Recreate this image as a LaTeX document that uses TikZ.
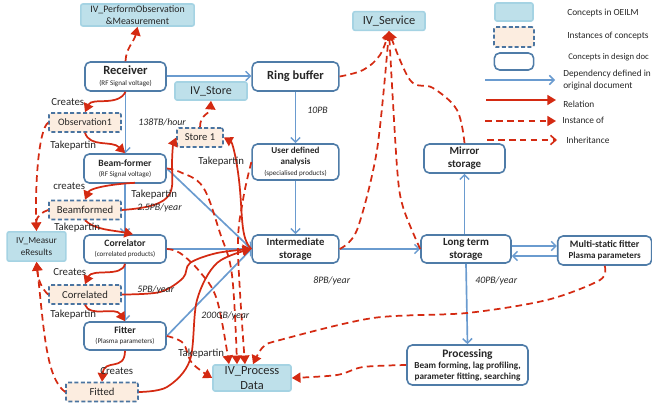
\documentclass[tikz,border=0pt]{standalone}
\usepackage{fontspec}
\setmainfont{Carlito}
\usetikzlibrary{arrows.meta}
\definecolor{cblue}{HTML}{BEE0EA}
\definecolor{cblueb}{HTML}{A5D3E3}
\definecolor{cinst}{HTML}{FCEDE0}
\definecolor{cdash}{HTML}{4A74A0}
\definecolor{cdes}{HTML}{4F7CA8}
\definecolor{cdep}{HTML}{6A9BCF}
\definecolor{cred}{HTML}{D42A12}
\definecolor{ctxt}{HTML}{262626}
\tikzset{
 oeilm/.style={draw=cblueb,fill=cblue,line width=1.2pt,rounded corners=1.5pt,inner sep=0pt,align=center,text=ctxt},
 inst/.style={draw=cdash,fill=cinst,line width=1.2pt,dash pattern=on 3pt off 1.8pt,rounded corners=1.5pt,inner sep=0pt,align=center,text=ctxt},
 des/.style={draw=cdes,fill=white,line width=1.2pt,rounded corners=4pt,inner sep=0pt,align=center,text=ctxt},
 lead/.style={font=\fontsize{6pt}{#1}\selectfont},
 dep/.style={draw=cdep,line width=1.25pt,-{Straight Barb[length=3.5pt,width=7pt,line width=1.1pt]}},
 rel/.style={draw=cred,line width=1.3pt,-{Triangle[length=6.5pt,width=7.5pt]}},
 dashr/.style={draw=cred,line width=1.3pt,dash pattern=on 5pt off 3.2pt},
 ins/.style={dashr,-{Triangle[length=6.5pt,width=7.5pt]}},
 inh/.style={dashr,-{Straight Barb[length=4pt,width=7pt,line width=1.2pt]}},
 lab/.style={font=\fontsize{8.1pt}{9pt}\selectfont,text=ctxt,inner sep=0pt,anchor=west},
 rate/.style={font=\itshape\fontsize{7.4pt}{8.4pt}\selectfont,text=ctxt,inner sep=0pt,anchor=west},
 leg/.style={font=\fontsize{7pt}{8.6pt}\selectfont,text=ctxt,inner sep=0pt,align=left,anchor=west},
}
\newcommand{\bt}[1]{\bfseries\fontsize{#1}{#1}\selectfont}
\newcommand{\sm}{\mdseries\fontsize{5.3pt}{6pt}\selectfont}
\begin{document}
\begin{tikzpicture}[x=0.75pt,y=-0.75pt]
\useasboundingbox (0,0) rectangle (652,406);
% OEILM concepts
\node[oeilm,minimum width=85pt,minimum height=16.5pt,font=\fontsize{7.4pt}{8.8pt}\selectfont] (perf) at (137.5,15) {IV\_PerformObservation\\\&Measurement};
\node[oeilm,minimum width=54pt,minimum height=13.5pt,font=\fontsize{9pt}{10pt}\selectfont] (store) at (211,91) {IV\_Store};
\node[oeilm,minimum width=54pt,minimum height=14pt,font=\fontsize{9.3pt}{10pt}\selectfont] (serv) at (389,21) {IV\_Service};
\node[oeilm,minimum width=44pt,minimum height=22pt,font=\fontsize{6.9pt}{8.8pt}\selectfont] (meas) at (36.5,246.5) {IV\_Measur\\eResults};
\node[oeilm,minimum width=58.5pt,minimum height=19.5pt,font=\fontsize{9.3pt}{11pt}\selectfont] (proc) at (252,378) {IV\_Process\\Data};
% design concepts
\node[des,lead=8.2pt,minimum width=60.75pt,minimum height=21.75pt] (recv) at (125.5,76.5) {\bt{9.4pt}Receiver\\\sm (RF Signal voltage)};
\node[des,minimum width=65pt,minimum height=21.75pt] (ring) at (295.5,76.5) {\bt{9.3pt}Ring buffer};
\node[des,lead=7.6pt,minimum width=61.5pt,minimum height=21.75pt] (beam) at (125,168.5) {\bt{7.2pt}Beam-former\\\sm (RF Signal voltage)};
\node[des,lead=8pt,minimum width=65pt,minimum height=27pt] (user) at (295.5,162) {\bt{6.8pt}User defined\\\bt{6.8pt}analysis\\\sm (specialised products)};
\node[des,lead=7.6pt,minimum width=61.5pt,minimum height=21pt] (corr) at (125,249) {\bt{7.3pt}Correlator\\\sm (correlated products)};
\node[des,lead=9.75pt,minimum width=65pt,minimum height=21pt] (intm) at (295.5,249) {\bt{8pt}Intermediate\\\bt{8pt}storage};
\node[des,lead=9.75pt,minimum width=67.5pt,minimum height=21pt] (long) at (466,249) {\bt{8.2pt}Long term\\\bt{8.2pt}storage};
\node[des,lead=9.75pt,minimum width=60.75pt,minimum height=21.75pt] (mirr) at (464.5,158.5) {\bt{8.2pt}Mirror\\\bt{8.2pt}storage};
\node[des,lead=7.6pt,minimum width=61.5pt,minimum height=21pt] (fitt) at (125,336) {\bt{7.3pt}Fitter\\\sm (Plasma parameters)};
\node[des,lead=8.5pt,minimum width=70.5pt,minimum height=21.75pt] (msf) at (604.7,250.5) {\bt{7.4pt}Multi-static fitter\\\bt{6.8pt}Plasma parameters};
\node[des,lead=8.3pt,minimum width=90.75pt,minimum height=30pt] (prcs) at (467.5,365) {\bt{8.6pt}Processing\\\bt{6.9pt}Beam forming, lag profiling,\\\bt{6.9pt}parameter fitting, searching};
% instances
\node[inst,minimum width=54pt,minimum height=14.25pt,font=\fontsize{7.4pt}{8pt}\selectfont] (obs) at (85,122.5) {Observation1};
\node[inst,minimum width=54pt,minimum height=14.25pt,font=\fontsize{8pt}{9pt}\selectfont] (bfd) at (85,210) {Beamformed};
\node[inst,minimum width=54pt,minimum height=14.25pt,font=\fontsize{8pt}{9pt}\selectfont] (cord) at (85,294.5) {Correlated};
\node[inst,minimum width=54pt,minimum height=14.25pt,font=\fontsize{8pt}{9pt}\selectfont] (fitd) at (102,392) {Fitted};
\node[inst,minimum width=34.5pt,minimum height=14.25pt,font=\fontsize{7.9pt}{9pt}\selectfont] (st1) at (200,137.5) {Store 1};
% dependencies
\draw[dep] (recv.east |- 0,76) -- (ring.west |- 0,76);
\draw[dep] (recv.south) -- (beam.north -| recv.south);
\draw[dep] (beam.south) -- (corr.north);
\draw[dep] (corr.south) -- (fitt.north);
\draw[dep] (ring) -- (user);
\draw[dep] (user) -- (intm);
\draw[dep] (beam.east) -- (intm.west);
\draw[dep] (corr.east) -- (intm.west);
\draw[dep] (fitt.east) -- (intm.west);
\draw[dep] (intm) -- (long);
\draw[dep] (long.north -| mirr.south) -- (mirr.south);
\draw[dep] (long.east |- 0,246) -- (msf.west |- 0,246);
\draw[dep] (msf.west |- 0,256) -- (long.east |- 0,256);
\draw[dep] (long.south) -- (prcs.north);
% instance-of (dashed)
\draw[ins] (recv.north) .. controls (126,48) and (134,42) .. (perf.south);
\draw[ins] (st1.north) .. controls (200,114) and (210,114) .. (store.south);
\draw[ins] (obs.west) .. controls (38,130) and (35,190) .. (meas.north);
\draw[dashr] (bfd.west) .. controls (42,212) and (37,216) .. (36,222);
\draw[ins] (cord.west) .. controls (42,289) and (38,280) .. (meas.south);
\draw[ins] (fitd.west) .. controls (46,378) and (44,330) .. (meas.south);
\draw[ins] plot[smooth,tension=.6] coordinates {(ring.east) (363,70) (380,55) (serv.south)};
\draw[ins] plot[smooth,tension=.5] coordinates {(intm.east) (357,230) (377,150) (serv.south)};
\draw[ins] plot[smooth,tension=.5] coordinates {(long.west) (403,207) (397,167) (serv.south)};
\draw[ins] plot[smooth,tension=.6] coordinates {(mirr.north) (457,110) (433,88) (410,80) (serv.south)};
\draw[ins] plot[smooth,tension=.6] coordinates {(beam.east) (180,172) (203,187) (220,233) (232,275) (proc.north -| 237,0)};
\draw[ins] plot[smooth,tension=.6] coordinates {(corr.east) (180,253) (200,272) (217,300) (proc.north -| 229,0)};
\draw[ins] plot[smooth,tension=.6] coordinates {(user.west) (243,200) (238,250) (proc.north -| 245,0)};
\draw[ins] plot[smooth,tension=.6] coordinates {(fitt.east) (183,343) (192,363) (proc.west)};
\draw[ins] plot[smooth,tension=.5] coordinates {(msf.south) (600,280) (547,300) (467,313) (373,318) (280,340) (263,347) (proc.north -| 253,0)};
\draw[ins] plot[smooth,tension=.5] coordinates {(prcs.west) (363,367) (337,375) (proc.east)};
% relations
\draw[rel] (recv.south) .. controls (118,107) and (92,97) .. (obs.north);
\draw[rel] (obs.south) .. controls (90,148) and (112,140) .. (beam.north);
\draw[rel] (135,182.8) .. controls (112,184) and (90,188) .. (bfd.north);
\draw[rel] (bfd.south) .. controls (95,230) and (112,230) .. (corr.north -| 133,0);
\draw[rel] (corr.south) .. controls (122,278) and (92,268) .. (cord.north);
\draw[rel] (cord.south) .. controls (90,318) and (115,306) .. (fitt.north);
\draw[rel] (fitt.south) .. controls (125,372) and (104,358) .. (fitd.north);
\draw[rel] (bfd.east) .. controls (180,206) and (172,190) .. (172,165) .. controls (172,155) and (173,145) .. (st1.west);
\draw[rel] (intm.west) .. controls (240,238) and (243,215) .. (239,180) .. controls (236,155) and (232,142) .. (st1.east);
\draw[rel] plot[smooth,tension=.55] coordinates {(cord.east) (160,292) (183,278) (190,263) (217,253) (intm.west)};
\draw[rel] plot[smooth,tension=.55] coordinates {(fitd.east) (167,387) (190,360) (197,300) (217,263) (intm.west)};
% labels
\node[lab] (l1) at (51,102) {Creates};
\node[lab] (l2) at (50,146) {Takepartin};
\node[lab] (l3) at (53,186) {creates};
\node[lab] (l4) at (131,195) {Takepartin};
\node[lab] (l5) at (54,228) {Takepartin};
\node[lab] (l6) at (53,272) {Creates};
\node[lab] (l7) at (50,315) {Takepartin};
\node[lab] (l8) at (178,354) {Takepartin};
\node[lab] (l9) at (100,371) {Creates};
\node[lab] (l10) at (198,162) {Takepartin};
\node[rate] (r1) at (138,122) {138TB/hour};
\node[rate] (r2) at (137,208) {2.5PB/year};
\node[rate] (r3) at (137,290) {5PB/year};
\node[rate] (r4) at (201,316) {200GB/year};
\node[rate] (r5) at (307,110) {10PB};
\node[rate] (r6) at (313,281) {8PB/year};
\node[rate] (r7) at (475,281) {40PB/year};
% legend
\node[oeilm,minimum width=28.5pt,minimum height=13.5pt] (k1) at (514,12) {};
\node[inst,minimum width=30pt,minimum height=15pt] (k2) at (514,37) {};
\node[des,minimum width=29.5pt,minimum height=12.75pt] (k3) at (514,61.5) {};
\coordinate (a1) at (485,80); \coordinate (b1) at (555,80);
\coordinate (a2) at (486,100); \coordinate (b2) at (556,100);
\coordinate (a3) at (485,121); \coordinate (b3) at (556,121);
\coordinate (a4) at (487,140); \coordinate (b4) at (557,140);
\draw[dep] (a1) -- (b1);
\draw[rel] (a2) -- (b2);
\draw[ins] (a3) -- (b3);
\draw[inh] (a4) -- (b4);
\node[leg] (t1) at (567,13) {Concepts in OEILM};
\node[leg] (t2) at (567,36) {Instances of concepts};
\node[leg,font=\fontsize{6.5pt}{8pt}\selectfont] (t3) at (568,57) {Concepts in design doc};
\node[leg] (t4) at (563,80) {Dependency defined in\\original document};
\node[leg] (t5) at (563,104) {Relation};
\node[leg] (t6) at (562,120) {Instance of};
\node[leg] (t7) at (566,140) {Inheritance};
\end{tikzpicture}
\end{document}
